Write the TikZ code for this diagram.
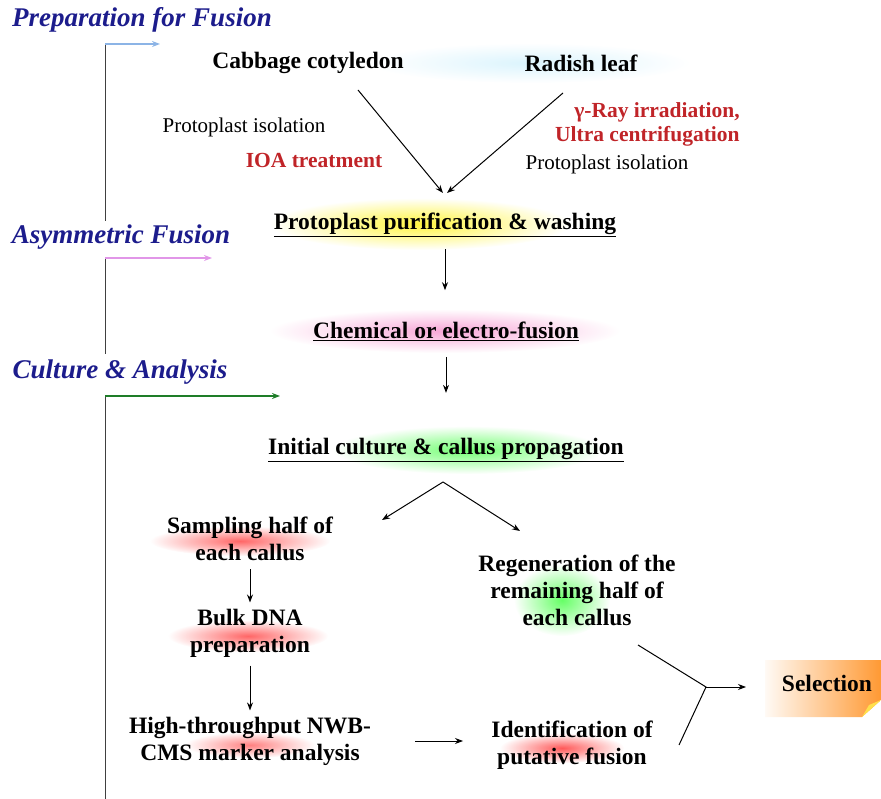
\documentclass[tikz,border=0pt]{standalone}
\usepackage{fontspec}
\setmainfont{Liberation Serif}
\usetikzlibrary{arrows.meta,fadings,positioning,calc}
\definecolor{headblue}{RGB}{28,28,140}
\definecolor{redlab}{RGB}{192,36,40}
\definecolor{lineblue}{RGB}{140,180,230}
\definecolor{linepink}{RGB}{225,150,232}
\definecolor{linegreen}{RGB}{30,125,40}
\tikzfading[name=glowfade, inner color=transparent!0, outer color=transparent!100]
\tikzset{every picture/.style={line width=0.75pt}}

\begin{document}
\begin{tikzpicture}[x=1pt,y=-1pt,
    head/.style={font=\rmfamily\bfseries\itshape\fontsize{27}{30}\selectfont, text=headblue},
    boldtxt/.style={font=\rmfamily\bfseries\fontsize{23.5}{27}\selectfont, align=center, inner sep=1pt},
    plaintxt/.style={font=\rmfamily\fontsize{21}{25}\selectfont, inner sep=1pt},
    redtxt/.style={boldtxt, font=\rmfamily\bfseries\fontsize{21.5}{24}\selectfont, text=redlab},
    arr/.style={-{Stealth[length=8pt,width=6pt]}, line width=1pt},
    timeline/.style={line width=1pt, black!75},
    glow/.style={path fading=glowfade}]
    \useasboundingbox (0,0) rectangle (881,799);

    % soft glows behind the steps
    \fill[cyan!14, glow] (530,63) ellipse (160 and 20);
    \fill[yellow!75, glow] (420,224) ellipse (150 and 26);
    \fill[magenta!35, glow] (445,331) ellipse (175 and 22);
    \fill[green!55, glow] (468,450) ellipse (135 and 24);
    \fill[red!60, glow] (240,541) ellipse (90 and 15);
    \fill[red!60, glow] (248,636) ellipse (80 and 16);
    \fill[red!50, glow] (250,745) ellipse (65 and 13);
    \fill[green!60, glow] (562,600) ellipse (48 and 36);
    \fill[red!65, glow] (562,748) ellipse (62 and 15);

    % selection box with folded corner
    \shade[left color=orange!4, right color=orange!80] (765,660) -- (881,660) -- (881,700) -- (862,717) -- (765,717) -- cycle;
    \fill[orange!35!yellow!70] (862,717) -- (869,705) -- (881,700) -- cycle;

    % stage headings and time line
    \node[head] (prep) at (142,20) {Preparation for Fusion};
    \node[head] (asym) at (121,237) {Asymmetric Fusion};
    \node[head] (cult) at (120,372) {Culture \& Analysis};
    \coordinate (t1) at (105,44);
    \coordinate (t1e) at (105,221);
    \coordinate (t2) at (105,258);
    \coordinate (t2e) at (105,354);
    \coordinate (t3) at (105,396);
    \coordinate (t3e) at (105,799);
    \coordinate (h1) at (160,44);
    \coordinate (h2) at (212,258);
    \coordinate (h3) at (280,396);
    \draw[timeline] (t1e) -- (t1);
    \draw[timeline] (t2e) -- (t2);
    \draw[timeline] (t3e) -- (t3);
    \draw[arr, lineblue, line width=1.6pt] (t1) -- (h1);
    \draw[arr, linepink, line width=1.6pt] (t2) -- (h2);
    \draw[arr, linegreen, line width=1.6pt] (t3) -- (h3);

    % sources
    \node[boldtxt] (cab) at (308,63) {Cabbage cotyledon};
    \node[boldtxt] (rad) at (581,63) {Radish leaf};
    \node[plaintxt] (isoL) at (244,127) {Protoplast isolation};
    \node[redtxt] (ioa) at (314,160) {IOA treatment};
    \node[redtxt, align=right, anchor=east] (gam) at (741,124) {γ-Ray irradiation,\\Ultra centrifugation};
    \node[plaintxt] (isoR) at (607,164) {Protoplast isolation};
    \coordinate (cabout) at (358,90);
    \coordinate (radout) at (563,93);
    \coordinate (mergeL) at (443,193);
    \coordinate (mergeR) at (447,193);
    \draw[arr] (cabout) -- (mergeL);
    \draw[arr] (radout) -- (mergeR);

    % fusion steps
    \node[boldtxt] (pur) at (445,225) {\underline{Protoplast purification \& washing}};
    \node[boldtxt] (chem) at (446,331) {\underline{Chemical or electro-fusion}};
    \node[boldtxt] (init) at (446,450) {\underline{Initial culture \& callus propagation}};
    \draw[arr, shorten <=11pt, shorten >=30pt] (pur.south) -- (pur.south |- chem.north);
    \draw[arr, shorten <=15pt, shorten >=44pt] (chem.south) -- (chem.south |- init.north);

    % split into two halves
    \coordinate (split) at (443,482);
    \coordinate (toSamp) at (382,520);
    \coordinate (toRegen) at (520,531);
    \draw[arr] (split) -- (toSamp);
    \draw[arr] (split) -- (toRegen);

    % analysis branch
    \node[boldtxt] (samp) at (250,539) {Sampling half of\\each callus};
    \node[boldtxt] (bulk) at (250,633) {Bulk DNA\\preparation};
    \node[boldtxt] (ht) at (250,741) {High-throughput NWB-\\CMS marker analysis};
    \draw[arr, shorten <=7pt, shorten >=5pt] (samp.south) -- (bulk.north);
    \draw[arr, shorten <=7pt, shorten >=5pt] (bulk.south) -- (ht.north);

    % regeneration branch
    \node[boldtxt] (regen) at (577,590) {Regeneration of the\\remaining half of\\each callus};
    \node[boldtxt] (ident) at (572,745) {Identification of\\putative fusion};
    \node[boldtxt] (sel) at (827,683) {Selection};
    \draw[arr, shorten <=43pt, shorten >=27pt] (ht.east) -- (ht.east -| ident.west);

    % join to selection
    \coordinate (join) at (706,687);
    \coordinate (fromRegen) at (638,645);
    \coordinate (fromIdent) at (679,745);
    \coordinate (toSel) at (746,687);
    \draw[line width=1pt] (fromRegen) -- (join) -- (fromIdent);
    \draw[arr] (join) -- (toSel);
\end{tikzpicture}
\end{document}
